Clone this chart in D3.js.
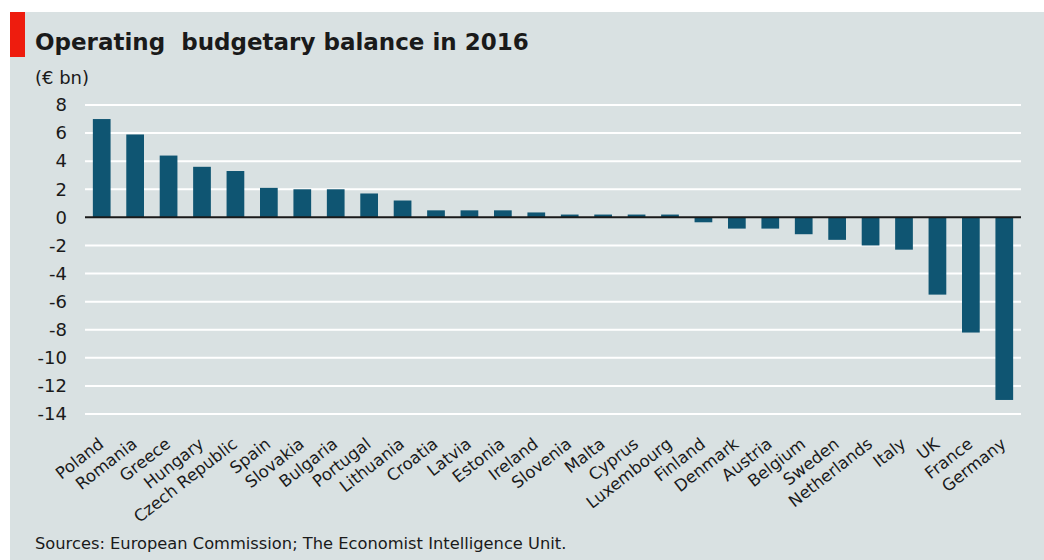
<!DOCTYPE html>
<html>
<head>
<meta charset="utf-8">
<script src="https://cdn.jsdelivr.net/npm/d3@7"></script>
<style>
  html, body { margin: 0; padding: 0; background: #ffffff; }
  svg { display: block; }
</style>
</head>
<body>
<svg id="chart" width="1044" height="560"></svg>
<script>
// Operating budgetary balance by EU member state, 2016 (€ bn)
const countries = ["Poland", "Romania", "Greece", "Hungary", "Czech Republic", "Spain", "Slovakia",
  "Bulgaria", "Portugal", "Lithuania", "Croatia", "Latvia", "Estonia", "Ireland", "Slovenia",
  "Malta", "Cyprus", "Luxembourg", "Finland", "Denmark", "Austria", "Belgium", "Sweden",
  "Netherlands", "Italy", "UK", "France", "Germany"];
const balance = [7.0, 5.9, 4.4, 3.6, 3.3, 2.1, 2.0,
  2.0, 1.7, 1.2, 0.5, 0.5, 0.5, 0.35, 0.2,
  0.2, 0.2, 0.2, -0.35, -0.8, -0.8, -1.2, -1.6,
  -2.0, -2.3, -5.5, -8.2, -13.0];
const yTicks = [8, 6, 4, 2, 0, -2, -4, -6, -8, -10, -12, -14];

const titleText = "Operating\u00a0 budgetary balance in 2016";
const unitText = "(€ bn)";
const sourceText = "Sources: European Commission; The Economist Intelligence Unit.";

const svg = d3.select("#chart");
const font = "'DejaVu Sans', Verdana, sans-serif";

// panel background and red tag
svg.append("rect").attr("x", 10).attr("y", 12).attr("width", 1034).attr("height", 548)
  .attr("fill", "#d9e1e2");
svg.append("rect").attr("x", 10).attr("y", 12).attr("width", 15).attr("height", 45)
  .attr("fill", "#ee1c0e");

svg.append("text").attr("x", 35).attr("y", 50)
  .attr("font-family", font).attr("font-weight", "bold").attr("font-size", 23)
  .attr("fill", "#1a1a1a").text(titleText);
svg.append("text").attr("x", 35).attr("y", 84)
  .attr("font-family", font).attr("font-size", 18)
  .attr("fill", "#1a1a1a").text(unitText);

const x = d3.scaleBand().domain(countries).range([85, 1021]).paddingInner(0.47).paddingOuter(0.235);
const y = d3.scaleLinear().domain([-14, 8]).range([414, 105]);

// horizontal gridlines
svg.append("g").selectAll("line").data(yTicks.filter(d => d !== 0)).join("line")
  .attr("x1", 85).attr("x2", 1021)
  .attr("y1", d => y(d)).attr("y2", d => y(d))
  .attr("stroke", "#ffffff").attr("stroke-width", 2);

// y axis labels
const yAxis = d3.axisLeft(y).tickValues(yTicks).tickSize(0).tickPadding(0)
  .tickFormat(d => d < 0 ? "-" + Math.abs(d) : String(d));
const gy = svg.append("g").attr("transform", "translate(67,0)").call(yAxis);
gy.select(".domain").remove();
gy.selectAll("text").attr("font-family", font).attr("font-size", 18).attr("fill", "#1a1a1a");

// bars
svg.append("g").selectAll("rect").data(countries).join("rect")
  .attr("x", d => x(d))
  .attr("width", x.bandwidth())
  .attr("y", (d, i) => y(Math.max(0, balance[i])))
  .attr("height", (d, i) => Math.abs(y(balance[i]) - y(0)))
  .attr("fill", "#0f5572");

// zero line
svg.append("line").attr("x1", 85).attr("x2", 1021).attr("y1", y(0)).attr("y2", y(0))
  .attr("stroke", "#1a1a1a").attr("stroke-width", 2);

// category labels, slanted
const xAxis = d3.axisBottom(x).tickSize(0).tickPadding(0);
const gx = svg.append("g").call(xAxis);
gx.select(".domain").remove();
gx.selectAll(".tick").attr("transform", d => `translate(${x(d) + x.bandwidth() / 2 + 3},446)`);
gx.selectAll("text")
  .attr("font-family", font).attr("font-size", 16.5).attr("fill", "#1a1a1a")
  .attr("text-anchor", "end").attr("x", 0).attr("y", 0).attr("dy", 0)
  .attr("transform", "rotate(-38)");

svg.append("text").attr("x", 35).attr("y", 549)
  .attr("font-family", font).attr("font-size", 16.3)
  .attr("fill", "#1a1a1a").text(sourceText);
</script>
</body>
</html>
